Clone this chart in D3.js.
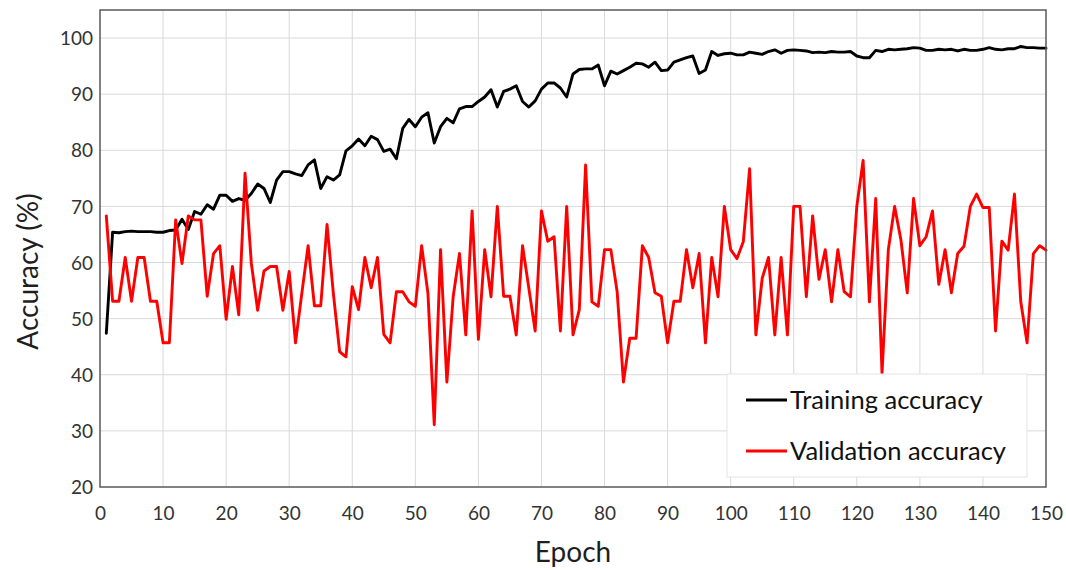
<!DOCTYPE html>
<html>
<head>
<meta charset="utf-8">
<script src="https://cdn.jsdelivr.net/npm/d3@7"></script>
<style>
  html, body { margin: 0; padding: 0; background: #fff; }
  svg { display: block; font-family: Lato, "Open Sans", sans-serif; }
</style>
</head>
<body>
<svg id="chart" width="1066" height="570"></svg>
<script>
// Accuracy (%) per epoch, epochs 1..150
const trainingAccuracy = [
  47.4, 65.4, 65.3, 65.5, 65.6, 65.5, 65.5, 65.5, 65.4, 65.4,
  65.7, 65.8, 67.7, 65.9, 69.1, 68.6, 70.3, 69.5, 72.0, 72.0,
  70.9, 71.4, 71.1, 72.3, 74.0, 73.2, 70.7, 74.7, 76.2, 76.2,
  75.8, 75.5, 77.4, 78.3, 73.2, 75.3, 74.7, 75.6, 79.9, 80.8,
  82.0, 80.8, 82.5, 81.9, 79.8, 80.2, 78.5, 83.9, 85.5, 84.2,
  85.9, 86.7, 81.3, 84.2, 85.7, 84.9, 87.4, 87.8, 87.8, 88.7,
  89.5, 90.8, 87.7, 90.5, 90.9, 91.5, 88.7, 87.7, 88.8, 90.9,
  92.0, 92.0, 91.1, 89.5, 93.6, 94.4, 94.5, 94.5, 95.2, 91.5,
  94.1, 93.6, 94.2, 94.8, 95.5, 95.4, 94.8, 95.7, 94.2, 94.3,
  95.7, 96.1, 96.5, 96.8, 93.7, 94.3, 97.6, 96.9, 97.2, 97.3,
  97.0, 97.0, 97.5, 97.3, 97.1, 97.6, 97.9, 97.3, 97.8, 97.9,
  97.8, 97.7, 97.4, 97.5, 97.4, 97.6, 97.5, 97.5, 97.6, 96.8,
  96.5, 96.5, 97.8, 97.6, 98.0, 97.9, 98.0, 98.1, 98.3, 98.2,
  97.8, 97.8, 98.0, 97.9, 98.0, 97.7, 98.0, 97.8, 97.8, 98.0,
  98.3, 98.0, 97.9, 98.1, 98.1, 98.5, 98.3, 98.3, 98.2, 98.2
];

const validationAccuracy = [
  68.3, 53.1, 53.1, 60.9, 53.1, 60.9, 60.9, 53.1, 53.1, 45.7,
  45.7, 67.6, 59.8, 68.3, 67.6, 67.6, 54.0, 61.6, 63.0, 49.9,
  59.3, 50.7, 75.9, 59.8, 51.5, 58.5, 59.3, 59.3, 51.5, 58.4,
  45.7, 54.5, 63.0, 52.3, 52.3, 66.8, 54.5, 44.1, 43.2, 55.7,
  51.6, 60.9, 55.5, 60.9, 47.2, 45.7, 54.8, 54.8, 53.0, 52.2,
  63.0, 54.5, 31.1, 62.3, 38.7, 53.9, 61.6, 47.1, 69.2, 46.3,
  62.3, 53.9, 70.0, 54.0, 54.0, 47.1, 63.0, 55.4, 47.8, 69.2,
  63.8, 64.6, 47.8, 70.0, 47.1, 51.6, 77.4, 53.0, 52.2, 62.3,
  62.3, 54.8, 38.7, 46.5, 46.5, 63.0, 60.9, 54.6, 54.0, 45.7,
  53.1, 53.1, 62.3, 55.5, 61.6, 45.7, 60.9, 53.9, 70.0, 62.3,
  60.7, 63.7, 76.7, 47.1, 57.2, 60.9, 47.1, 60.9, 47.1, 70.0,
  70.0, 53.9, 68.3, 57.0, 62.3, 53.0, 62.3, 54.8, 53.9, 70.0,
  78.2, 53.0, 71.4, 40.3, 62.3, 70.0, 64.0, 54.6, 71.4, 63.0,
  64.6, 69.2, 56.1, 62.3, 54.6, 61.6, 62.9, 70.0, 72.2, 69.8,
  69.8, 47.8, 63.8, 62.2, 72.2, 53.0, 45.7, 61.6, 63.0, 62.2
];

const epochs = trainingAccuracy.map((_, i) => i + 1);

const xTicks = [0, 10, 20, 30, 40, 50, 60, 70, 80, 90, 100, 110, 120, 130, 140, 150];
const yTicks = [20, 30, 40, 50, 60, 70, 80, 90, 100];

const seriesNames = ["Training accuracy", "Validation accuracy"];
const seriesColors = ["#000000", "#ff0000"];

const svg = d3.select("#chart");

const plot = { left: 100, right: 1046, top: 10, bottom: 487 };

const x = d3.scaleLinear().domain([0, 150]).range([plot.left, plot.right]);
const y = d3.scaleLinear().domain([20, 105]).range([plot.bottom, plot.top]);

// gridlines
const grid = svg.append("g").attr("class", "grid");
grid.selectAll("line.h")
  .data(yTicks.slice(1))
  .join("line")
  .attr("x1", plot.left).attr("x2", plot.right)
  .attr("y1", d => y(d)).attr("y2", d => y(d))
  .attr("stroke", "#d9d9d9").attr("stroke-width", 1);
grid.selectAll("line.v")
  .data(xTicks.slice(1, -1))
  .join("line")
  .attr("y1", plot.top).attr("y2", plot.bottom)
  .attr("x1", d => x(d)).attr("x2", d => x(d))
  .attr("stroke", "#d9d9d9").attr("stroke-width", 1);

// axes (labels only; frame drawn separately)
const xAxis = d3.axisBottom(x).tickValues(xTicks).tickSize(0).tickPadding(0);
const gx = svg.append("g")
  .attr("transform", `translate(0,${plot.bottom + 33})`)
  .call(xAxis);
gx.select(".domain").remove();
gx.selectAll("text")
  .attr("dy", 0)
  .attr("font-size", 19)
  .attr("font-family", "Lato, sans-serif")
  .attr("fill", "#333333");

const yAxis = d3.axisLeft(y).tickValues(yTicks).tickSize(0).tickPadding(0);
const gy = svg.append("g")
  .attr("transform", `translate(${plot.left - 7},0)`)
  .call(yAxis);
gy.select(".domain").remove();
gy.selectAll("text")
  .attr("dy", "0.35em")
  .attr("font-size", 19)
  .attr("font-family", "Lato, sans-serif")
  .attr("fill", "#333333");

// series lines
const line = d3.line()
  .x(d => x(d[0]))
  .y(d => y(d[1]));

[trainingAccuracy, validationAccuracy].forEach((vals, i) => {
  svg.append("path")
    .datum(epochs.map((e, k) => [e, vals[k]]))
    .attr("fill", "none")
    .attr("stroke", seriesColors[i])
    .attr("stroke-width", 2.9)
    .attr("stroke-linejoin", "round")
    .attr("stroke-linecap", "round")
    .attr("d", line);
});

// plot frame
svg.append("rect")
  .attr("x", plot.left).attr("y", plot.top)
  .attr("width", plot.right - plot.left)
  .attr("height", plot.bottom - plot.top)
  .attr("fill", "none")
  .attr("stroke", "#595959")
  .attr("stroke-width", 1.5);

// axis titles
svg.append("text")
  .attr("x", (plot.left + plot.right) / 2)
  .attr("y", 562)
  .attr("text-anchor", "middle")
  .attr("font-size", 28)
  .attr("fill", "#1f1f1f")
  .text("Epoch");

svg.append("text")
  .attr("transform", `translate(38,${(plot.top + plot.bottom) / 2 + 23}) rotate(-90)`)
  .attr("text-anchor", "middle")
  .attr("font-size", 28)
  .attr("fill", "#1f1f1f")
  .text("Accuracy (%)");

// legend
const legend = svg.append("g").attr("transform", "translate(727,374)");
legend.append("rect")
  .attr("width", 300).attr("height", 103)
  .attr("fill", "#ffffff")
  .attr("stroke", "#e3e3e3")
  .attr("stroke-width", 1);
seriesNames.forEach((name, i) => {
  const yy = 26 + i * 51;
  legend.append("line")
    .attr("x1", 19).attr("x2", 60)
    .attr("y1", yy).attr("y2", yy)
    .attr("stroke", seriesColors[i])
    .attr("stroke-width", 2.9);
  legend.append("text")
    .attr("x", 63).attr("y", yy)
    .attr("dy", "0.35em")
    .attr("font-size", 25.5)
    .attr("fill", "#111111")
    .text(name);
});
</script>
</body>
</html>
